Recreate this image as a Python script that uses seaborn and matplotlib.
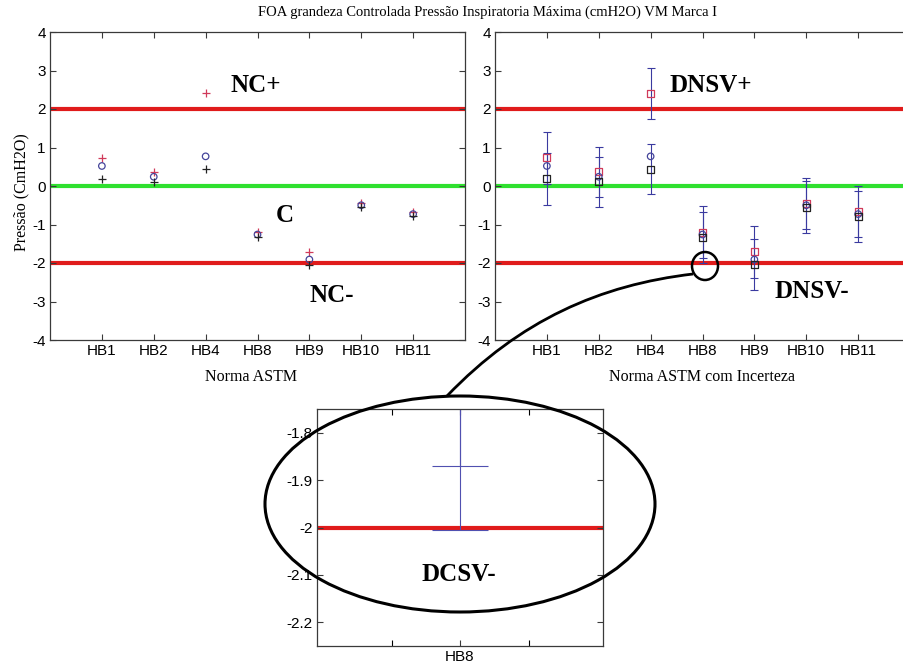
import numpy as np
import pandas as pd
import matplotlib
matplotlib.use("Agg")
import matplotlib.pyplot as plt
import seaborn as sns
from matplotlib.patches import Ellipse, PathPatch
from matplotlib.path import Path

# ---------------- data ----------------
categories = ["HB1", "HB2", "HB4", "HB8", "HB9", "HB10", "HB11"]
red_vals = [0.73, 0.37, 2.41, -1.20, -1.71, -0.45, -0.67]
blue_vals = [0.52, 0.24, 0.77, -1.26, -1.91, -0.50, -0.73]
black_vals = [0.19, 0.11, 0.44, -1.335, -2.04, -0.55, -0.79]
uncert = [0.68, 0.65, 0.66, 0.67, 0.67, 0.67, 0.66]
upper_limit = 2.0
center_line = 0.0
lower_limit = -2.0
y_ticks = [-4, -3, -2, -1, 0, 1, 2, 3, 4]
inset_yticks = [-2.2, -2.1, -2.0, -1.9, -1.8]
inset_ytick_labels = ["-2.2", "-2.1", "-2", "-1.9", "-1.8"]
title = "FOA grandeza Controlada Pressão Inspiratoria Máxima (cmH2O) VM Marca I"

pos = list(range(1, len(categories) + 1))
df = pd.DataFrame({"pos": pos, "cat": categories, "red": red_vals,
                   "blue": blue_vals, "black": black_vals, "err": uncert})

SERIF = "Liberation Serif"
SANS = "Liberation Sans"
plt.rcParams["font.family"] = [SANS, "DejaVu Sans"]

RED = "#e01b1b"
GREEN = "#2fe02f"
C_RED = "#d03a5a"
C_BLUE = "#45459a"
C_BLACK = "#222222"
C_ERR = "#3a3aa0"

W, H = 904, 664
fig = plt.figure(figsize=(W / 100, H / 100), dpi=100)
fig.patch.set_facecolor("white")


def frac(x0, y0, x1, y1):
    return [x0 / W, 1 - y1 / H, (x1 - x0) / W, (y1 - y0) / H]


def style_axes(ax):
    for s in ax.spines.values():
        s.set_color("#3a3a3a")
        s.set_linewidth(0.9)
    ax.tick_params(direction="in", length=4, width=0.8, top=True, right=True,
                   labelsize=11, colors="#3a3a3a", labelcolor="black", pad=3)


def ref_lines(ax):
    ax.axhline(upper_limit, color=RED, lw=3.0, zorder=1)
    ax.axhline(center_line, color=GREEN, lw=3.0, zorder=1)
    ax.axhline(lower_limit, color=RED, lw=3.0, zorder=1)


ax1 = fig.add_axes(frac(50, 32, 465, 340))
ax2 = fig.add_axes(frac(495, 32, 910, 340))
ax3 = fig.add_axes(frac(317, 409, 603, 646))

# ---------------- left panel ----------------
ref_lines(ax1)
sns.scatterplot(data=df, x="pos", y="red", marker="+", s=40, color=C_RED,
                linewidth=0.9, ax=ax1, zorder=3)
sns.scatterplot(data=df, x="pos", y="blue", marker="o", s=22, color=C_BLUE,
                facecolor="none", edgecolor=C_BLUE, linewidth=0.9, ax=ax1, zorder=3)
sns.scatterplot(data=df, x="pos", y="black", marker="+", s=40, color=C_BLACK,
                linewidth=0.9, ax=ax1, zorder=3)
ax1.set_xlim(0, 8)
ax1.set_ylim(-4, 4)
ax1.set_xticks(pos)
ax1.set_xticklabels(categories)
ax1.set_yticks(y_ticks)
ax1.set_yticklabels([str(v) for v in y_ticks])
style_axes(ax1)
ax1.set_xlabel("Norma ASTM", fontfamily=SERIF, fontsize=11.5, va="center")
ax1.xaxis.set_label_coords(0.484, -0.12)
ax1.set_ylabel("Pressão (CmH2O)", fontfamily=SERIF, fontsize=11.5, va="center")
ax1.yaxis.set_label_coords(-0.068, 0.48)
tkw = dict(fontfamily=SERIF, fontweight="bold", fontsize=18, ha="left",
           va="baseline", color="black", zorder=5)
ax1.text(3.47, 2.44, "NC+", **tkw)
ax1.text(4.35, -0.93, "C", **tkw)
ax1.text(5.01, -3.0, "NC-", **tkw)


# ---------------- right panel ----------------
def draw_err(ax, capsize):
    ax.errorbar(df["pos"], df["red"], yerr=df["err"], fmt="none", ecolor=C_ERR,
                elinewidth=0.8, capsize=capsize, capthick=0.8, zorder=2)
    ax.errorbar(df["pos"], df["black"], yerr=df["err"], fmt="none", ecolor=C_ERR,
                elinewidth=0.8, capsize=capsize, capthick=0.8, zorder=2)
    sns.scatterplot(data=df, x="pos", y="red", marker="s", s=26,
                    color=C_RED, facecolor="none", edgecolor=C_RED,
                    linewidth=0.9, ax=ax, zorder=3)
    sns.scatterplot(data=df, x="pos", y="blue", marker="o", s=22,
                    color=C_BLUE, facecolor="none", edgecolor=C_BLUE,
                    linewidth=0.9, ax=ax, zorder=3)
    sns.scatterplot(data=df, x="pos", y="black", marker="s", s=26,
                    color=C_BLACK, facecolor="none", edgecolor=C_BLACK,
                    linewidth=0.9, ax=ax, zorder=3)


ref_lines(ax2)
draw_err(ax2, 2.7)
ax2.set_xlim(0, 8)
ax2.set_ylim(-4, 4)
ax2.set_xticks(pos)
ax2.set_xticklabels(categories)
ax2.set_yticks(y_ticks)
ax2.set_yticklabels([str(v) for v in y_ticks])
style_axes(ax2)
ax2.set_xlabel("Norma ASTM com Incerteza", fontfamily=SERIF, fontsize=11.5, va="center")
ax2.xaxis.set_label_coords((701.7 - 495) / 415, -0.12)
ax2.set_ylabel("")
ax2.text(3.37, 2.45, "DNSV+", **tkw)
ax2.text(5.39, -2.92, "DNSV-", **tkw)

# ---------------- inset (zoom on HB8) ----------------
ax3.axhline(lower_limit, color=RED, lw=3.0, zorder=1)
ax3.errorbar(df["pos"], df["red"], yerr=df["err"], fmt="none", ecolor="#5050b0",
             elinewidth=0.8, capsize=20.4, capthick=0.8, zorder=2)
ax3.errorbar(df["pos"], df["black"], yerr=df["err"], fmt="none", ecolor="#5050b0",
             elinewidth=0.8, capsize=20.4, capthick=0.8, zorder=2)
ax3.set_xlim(3.7, 4.3)
ax3.set_ylim(-2.25, -1.75)
ax3.set_xticks([4])
ax3.set_xticklabels(["HB8"])
ax3.set_xticks([3.857, 4.144], minor=True)
ax3.set_yticks(inset_yticks)
ax3.set_yticklabels(inset_ytick_labels)
style_axes(ax3)
ax3.tick_params(which="minor", direction="in", length=4, width=0.8, top=True, bottom=True)
ax3.set_xlabel("")
ax3.set_ylabel("")
ax3.text(0.367, 0.274, "DCSV-", transform=ax3.transAxes, **tkw)

# ---------------- callout decorations (pixel coords -> inches) ----------------
def px(x, y):
    return (x / 100.0, (H - y) / 100.0)


ell = Ellipse(px(460, 504), 390 / 100.0, 216 / 100.0, angle=0,
              transform=fig.dpi_scale_trans, fill=False, lw=2.2,
              edgecolor="black", zorder=10)
fig.add_artist(ell)
small = Ellipse(px(705, 266), 26 / 100.0, 28 / 100.0,
                transform=fig.dpi_scale_trans, fill=False, lw=1.8,
                edgecolor="black", zorder=10)
fig.add_artist(small)
verts = [px(447, 396), px(520, 320), px(600, 285), px(693, 274)]
curve = PathPatch(Path(verts, [Path.MOVETO, Path.CURVE4, Path.CURVE4, Path.CURVE4]),
                  transform=fig.dpi_scale_trans, fill=False, lw=2.0,
                  edgecolor="black", zorder=10)
fig.add_artist(curve)

fig.text(488 / W, 1 - 12 / H, title, ha="center", va="center",
         fontfamily=SERIF, fontsize=10.5)

fig.savefig("out.png", dpi=100)
